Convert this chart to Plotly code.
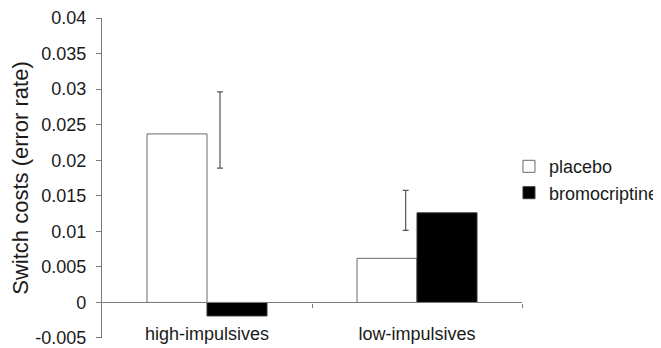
import plotly.graph_objects as go

categories = ["high-impulsives", "low-impulsives"]
placebo = [0.0237, 0.0062]
bromocriptine = [-0.0019, 0.0126]
err_mid = [0.02425, 0.01295]
err_half = [0.00535, 0.00282]
err_offset = [0.062, -0.054]
y_tickvals = [-0.005, 0, 0.005, 0.01, 0.015, 0.02, 0.025, 0.03, 0.035, 0.04]
y_ticktext = ["-0.005", "0", "0.005", "0.01", "0.015", "0.02", "0.025", "0.03", "0.035", "0.04"]

idx = list(range(len(categories)))
FONT = "Liberation Sans, Arial, sans-serif"
AX = "#7a7a7a"
YR = [-0.005001, 0.040001]

fig = go.Figure()
fig.add_trace(go.Bar(name="placebo", x=idx, y=placebo,
                     marker=dict(color="white", line=dict(color="#6a6a6a", width=1))))
fig.add_trace(go.Bar(name="bromocriptine", x=idx, y=bromocriptine,
                     marker=dict(color="black", line=dict(color="#333333", width=1))))
fig.add_trace(go.Scatter(x=[i + o for i, o in zip(idx, err_offset)], y=err_mid,
                         mode="markers", marker=dict(size=0.1, color="rgba(0,0,0,0)"),
                         error_y=dict(type="data", array=err_half, color="#555555",
                                      thickness=1.2, width=3),
                         showlegend=False, hoverinfo="skip", xaxis="x2"))

fig.update_layout(
    width=653, height=340,
    margin=dict(l=94, r=139, t=10, b=10, autoexpand=False),
    paper_bgcolor="white", plot_bgcolor="white",
    font=dict(family=FONT, size=18, color="#1a1a1a"),
    barmode="group", bargap=0.4286, bargroupgap=0,
    showlegend=True,
    legend=dict(x=0.969, xanchor="left", y=0.495, yanchor="middle",
                font=dict(size=18), bgcolor="rgba(0,0,0,0)", tracegroupgap=0,
                itemwidth=30),
    xaxis=dict(range=[-0.5, 1.5], tickvals=idx, ticktext=categories,
               anchor="free", position=0.053, side="bottom",
               showline=False, ticks="", showgrid=False, zeroline=False,
               automargin=False),
    xaxis2=dict(range=[-0.5, 1.5], overlaying="x", anchor="free",
                position=0.005 / 0.045, side="bottom",
                showline=True, linecolor=AX, linewidth=1.2,
                ticks="outside", ticklen=4, tickcolor=AX, tickvals=[0.5, 1.5],
                showticklabels=False, showgrid=False, zeroline=False, automargin=False),
    yaxis=dict(range=YR, tickvals=y_tickvals, ticktext=y_ticktext,
               showline=True, linecolor=AX, linewidth=1.2,
               ticks="outside", ticklen=5, tickcolor=AX, ticklabelstandoff=6,
               ticklabeloverflow="allow",
               showgrid=False, zeroline=False, automargin=False,
               title=dict(text="Switch costs (error rate)", standoff=8)),
)

fig.write_html("out.html")
